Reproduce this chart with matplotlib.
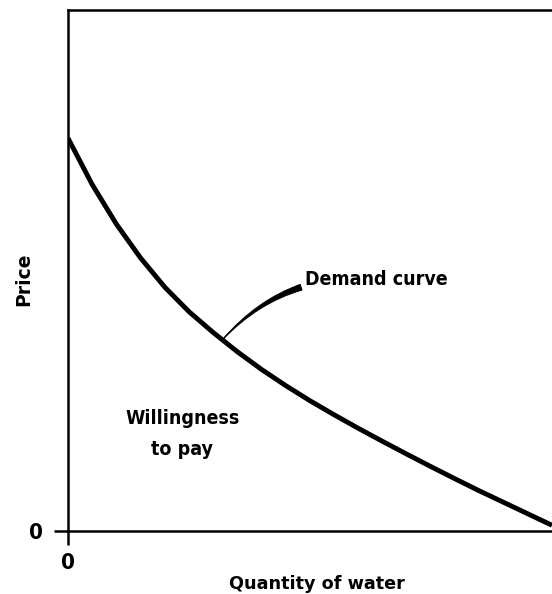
import matplotlib
matplotlib.use("Agg")
import matplotlib.pyplot as plt

# demand curve (quantity, price), both axes scaled 0-100
quantity = [0, 5, 10, 15, 20, 25, 30, 35, 40, 45, 50,
            55, 60, 65, 70, 75, 80, 85, 90, 95, 100]
price = [75.4, 66.5, 58.9, 52.4, 46.8, 42.1, 38.1, 34.4, 31.0, 27.9, 25.0,
         22.3, 19.7, 17.2, 14.75, 12.35, 10.0, 7.7, 5.5, 3.3, 1.1]

x_label = "Quantity of water"
y_label = "Price"
curve_label = "Demand curve"
area_label = "Willingness\nto pay"

plt.rcParams['font.family'] = ['DejaVu Sans']
plt.rcParams['font.weight'] = 'bold'

fig = plt.figure(figsize=(5.52, 5.94), dpi=100)
ax = fig.add_axes([68 / 552, 63 / 594, 484 / 552, 521 / 594])

ax.plot(quantity, price, color="black", lw=3.5, solid_capstyle="butt",
        solid_joinstyle="round")

ax.set_xlim(0, 100)
ax.set_ylim(0, 100)
ax.set_xticks([0])
ax.set_yticks([0])
ax.set_xticklabels(["0"], fontsize=16, fontweight="bold", fontstretch="condensed")
ax.set_yticklabels(["0"], fontsize=16, fontweight="bold", fontstretch="condensed")
ax.tick_params(direction="out", length=10, width=1.8)
ax.tick_params(axis="y", pad=8)
ax.tick_params(axis="x", pad=6)

for side in ["left", "top", "bottom"]:
    ax.spines[side].set_linewidth(1.8)
ax.spines["right"].set_visible(False)

# axis titles are in a heavy, wider face than the labels inside the plot
ax.set_xlabel(x_label, fontsize=12.7, fontweight="bold")
ax.xaxis.set_label_coords(0.514, -0.084)
ax.set_ylabel(y_label, fontsize=13.5, fontweight="bold")
ax.yaxis.set_label_coords(-0.072, 0.484)

ax.text(23.6, 18.6, area_label, ha="center", va="center", fontsize=14,
        fontweight="bold", fontstretch="condensed", linespacing=1.75)

ax.annotate(curve_label, xy=(32.0, 36.8), xytext=(49.0, 48.2),
            fontsize=14, fontweight="bold", fontstretch="condensed",
            va="center", ha="left",
            arrowprops=dict(arrowstyle="wedge,tail_width=0.3,shrink_factor=0.5",
                            color="black", lw=0.8,
                            connectionstyle="arc3,rad=0.25",
                            shrinkA=1, shrinkB=0))

fig.savefig("out.png", dpi=100)
